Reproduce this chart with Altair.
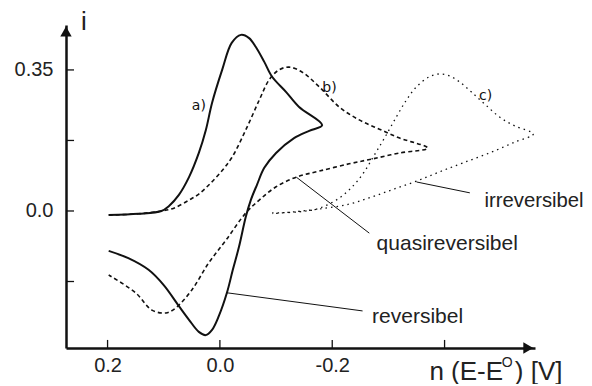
import altair as alt
import pandas as pd

# ---- curve data (x = n(E-E°) in V, y = i) ----
# a) reversible (solid)
a_x = [0.198, 0.145, 0.104, 0.091, 0.073, 0.055, 0.0375, 0.025, 0.014, -0.004, -0.021, -0.0375, -0.052, -0.064,
       -0.079, -0.093, -0.118, -0.141, -0.182,
       -0.159, -0.132, -0.100, -0.079, -0.066, -0.055, -0.046, -0.034, -0.023, -0.0125, 0.002, 0.014, 0.025,
       0.0375, 0.055, 0.073, 0.100, 0.127, 0.163, 0.198]
a_y = [-0.010, -0.007, 0.000, 0.012, 0.040, 0.084, 0.144, 0.201, 0.268, 0.350, 0.417, 0.437, 0.429, 0.407,
       0.370, 0.333, 0.295, 0.258, 0.213,
       0.199, 0.181, 0.144, 0.107, 0.065, 0.027, -0.015, -0.089, -0.146, -0.203, -0.261, -0.295, -0.308,
       -0.300, -0.270, -0.236, -0.184, -0.146, -0.117, -0.099]

# b) quasi-reversible (dashed)
b_x = [0.198, 0.145, 0.104, 0.082, 0.055, 0.0375, 0.018, -0.002, -0.021, -0.046, -0.070, -0.0875, -0.105,
       -0.123, -0.146, -0.177, -0.2125, -0.248, -0.284, -0.320, -0.370,
       -0.320, -0.271, -0.230, -0.177, -0.136, -0.100, -0.070, -0.046, -0.011, 0.020, 0.050, 0.079, 0.096,
       0.121, 0.150, 0.198]
b_y = [-0.010, -0.007, 0.000, 0.007, 0.027, 0.042, 0.067, 0.097, 0.132, 0.201, 0.275, 0.325, 0.350,
       0.357, 0.345, 0.308, 0.258, 0.226, 0.203, 0.181, 0.156,
       0.144, 0.129, 0.117, 0.099, 0.084, 0.060, 0.027, -0.005, -0.072, -0.129, -0.196, -0.241, -0.253,
       -0.246, -0.203, -0.159]

# c) irreversible (dotted)
c_x = [-0.093, -0.141, -0.177, -0.2125, -0.239, -0.257, -0.275, -0.293, -0.314, -0.332, -0.350, -0.373,
       -0.391, -0.409, -0.427, -0.448, -0.471, -0.498, -0.525, -0.558,
       -0.525, -0.480, -0.432, -0.391, -0.350, -0.311, -0.271, -0.230, -0.177, -0.132, -0.093]
c_y = [-0.005, -0.002, 0.007, 0.032, 0.065, 0.097, 0.139, 0.181, 0.233, 0.275, 0.308, 0.333,
       0.340, 0.335, 0.320, 0.295, 0.266, 0.233, 0.211, 0.191,
       0.171, 0.144, 0.119, 0.097, 0.074, 0.055, 0.035, 0.017, 0.005, -0.002, -0.007]

# axis ticks / labels
x_ticks = [0.2, 0.0, -0.2, -0.4]
x_labels = [0.2, 0.0, -0.2]
y_ticks = [0.35, 0.175, 0.0, -0.175]
y_labels = [0.35, 0.0]
X_MIN, X_MAX = -0.561, 0.274
Y_MIN, Y_MAX = -0.340, 0.4615

# curve tags
tag_text = ["a)", "b)", "c)"]
tag_x = [0.0375, -0.195, -0.473]
tag_y = [0.251, 0.295, 0.275]

# annotations with leader lines
ann_text = ["reversibel", "quasireversibel", "irreversibel"]
ann_x = [-0.271, -0.279, -0.471]
ann_y = [-0.278, -0.097, 0.010]
ann_size = [21, 21, 20.3]
lead_x1 = [-0.0125, -0.136, -0.350]
lead_y1 = [-0.203, 0.084, 0.072]
lead_x2 = [-0.254, -0.266, -0.445]
lead_y2 = [-0.248, -0.055, 0.045]

# axis titles
xt_parts = ["n (E-E", "O", ") [V]"]
xt_x = [-0.373, -0.502, -0.525]
xt_y = [-0.419, -0.387, -0.419]
xt_size = [26, 14, 26]

FONT = "Liberation Sans"
INK = "#111111"

rows = []
for name, xs_, ys_ in [("a", a_x, a_y), ("b", b_x, b_y), ("c", c_x, c_y)]:
    for i, (xv, yv) in enumerate(zip(xs_, ys_)):
        rows.append({"curve": name, "i": i, "x": xv, "y": yv})
df = pd.DataFrame(rows)

xs = alt.Scale(domain=[X_MIN, X_MAX], reverse=True, nice=False, zero=False)
ys = alt.Scale(domain=[Y_MIN, Y_MAX], nice=False, zero=False)

x_axis = alt.Axis(values=x_labels, ticks=False, tickSize=0, grid=False, title=None,
                  domainColor=INK, domainWidth=2.5, labelFont=FONT, labelFontSize=20,
                  labelColor="#222222", labelPadding=7,
                  labelExpr="datum.value > 0.1 ? '0.2' : (datum.value < -0.1 ? '-0.2' : '0.0')")
y_axis = alt.Axis(values=y_labels, ticks=False, tickSize=0, grid=False, title=None,
                  domainColor=INK, domainWidth=2.5, labelFont=FONT, labelFontSize=20,
                  labelColor="#222222", labelPadding=13,
                  labelExpr="datum.value > 0.1 ? '0.35' : '0.0'")

X = alt.X("x:Q", scale=xs, axis=x_axis)
Y = alt.Y("y:Q", scale=ys, axis=y_axis)

line_a = alt.Chart(df[df.curve == "a"]).mark_line(
    color=INK, strokeWidth=2, interpolate="catmull-rom").encode(x=X, y=Y, order="i:Q")
line_b = alt.Chart(df[df.curve == "b"]).mark_line(
    color=INK, strokeWidth=1.6, strokeDash=[4, 3], interpolate="catmull-rom").encode(
    x="x:Q", y="y:Q", order="i:Q")
line_c = alt.Chart(df[df.curve == "c"]).mark_line(
    color=INK, strokeWidth=1.3, strokeDash=[1.5, 4], interpolate="catmull-rom").encode(
    x="x:Q", y="y:Q", order="i:Q")

# inward ticks
xt_df = pd.DataFrame({"x": x_ticks, "y": [Y_MIN] * len(x_ticks), "y2": [Y_MIN + 0.02] * len(x_ticks)})
yt_df = pd.DataFrame({"y": y_ticks, "x": [X_MAX] * len(y_ticks), "x2": [X_MAX - 0.0143] * len(y_ticks)})
xticks = alt.Chart(xt_df).mark_rule(color=INK, strokeWidth=1.3).encode(x="x:Q", y="y:Q", y2="y2:Q")
yticks = alt.Chart(yt_df).mark_rule(color=INK, strokeWidth=1.3).encode(y="y:Q", x="x:Q", x2="x2:Q")

# arrow heads
arr_x = alt.Chart(pd.DataFrame({"x": [X_MIN + 0.012], "y": [Y_MIN]})).mark_point(
    shape="triangle-right", filled=True, color=INK, size=130, opacity=1).encode(x="x:Q", y="y:Q")
arr_y = alt.Chart(pd.DataFrame({"x": [X_MAX], "y": [Y_MAX - 0.016]})).mark_point(
    shape="triangle-up", filled=True, color=INK, size=130, opacity=1).encode(x="x:Q", y="y:Q")

# leader lines
lead_df = pd.DataFrame({"x": lead_x1, "y": lead_y1, "x2": lead_x2, "y2": lead_y2})
leads = alt.Chart(lead_df).mark_rule(color=INK, strokeWidth=1).encode(x="x:Q", y="y:Q", x2="x2:Q", y2="y2:Q")

ann = alt.Chart(pd.DataFrame({"t": ann_text, "x": ann_x, "y": ann_y, "s": ann_size})).mark_text(
    align="left", baseline="alphabetic", font=FONT, color="#222222").encode(
    x="x:Q", y="y:Q", text="t:N", size=alt.Size("s:Q", scale=None, legend=None))

tags = alt.Chart(pd.DataFrame({"t": tag_text, "x": tag_x, "y": tag_y})).mark_text(
    align="center", baseline="alphabetic", font="DejaVu Sans", fontSize=14, color=INK).encode(
    x="x:Q", y="y:Q", text="t:N")

xtitle = alt.Chart(pd.DataFrame({"t": xt_parts, "x": xt_x, "y": xt_y, "s": xt_size})).mark_text(
    align="left", baseline="alphabetic", font=FONT, color="#222222").encode(
    x="x:Q", y="y:Q", text="t:N", size=alt.Size("s:Q", scale=None, legend=None))

ytitle = alt.Chart(pd.DataFrame({"t": ["i"], "x": [0.242], "y": [0.449]})).mark_text(
    align="center", baseline="alphabetic", font=FONT, fontSize=26, color="#222222").encode(
    x="x:Q", y="y:Q", text="t:N")

chart = alt.layer(line_a, line_b, line_c, xticks, yticks, leads, arr_x, arr_y, ann, tags, xtitle, ytitle).properties(
    width=469, height=323,
    autosize=alt.AutoSizeParams(type="none"),
    padding={"left": 58, "top": 17, "right": 49, "bottom": 36},
).configure_view(stroke=None)

chart.save("out.html", embed_options={"renderer": "svg", "actions": False})
